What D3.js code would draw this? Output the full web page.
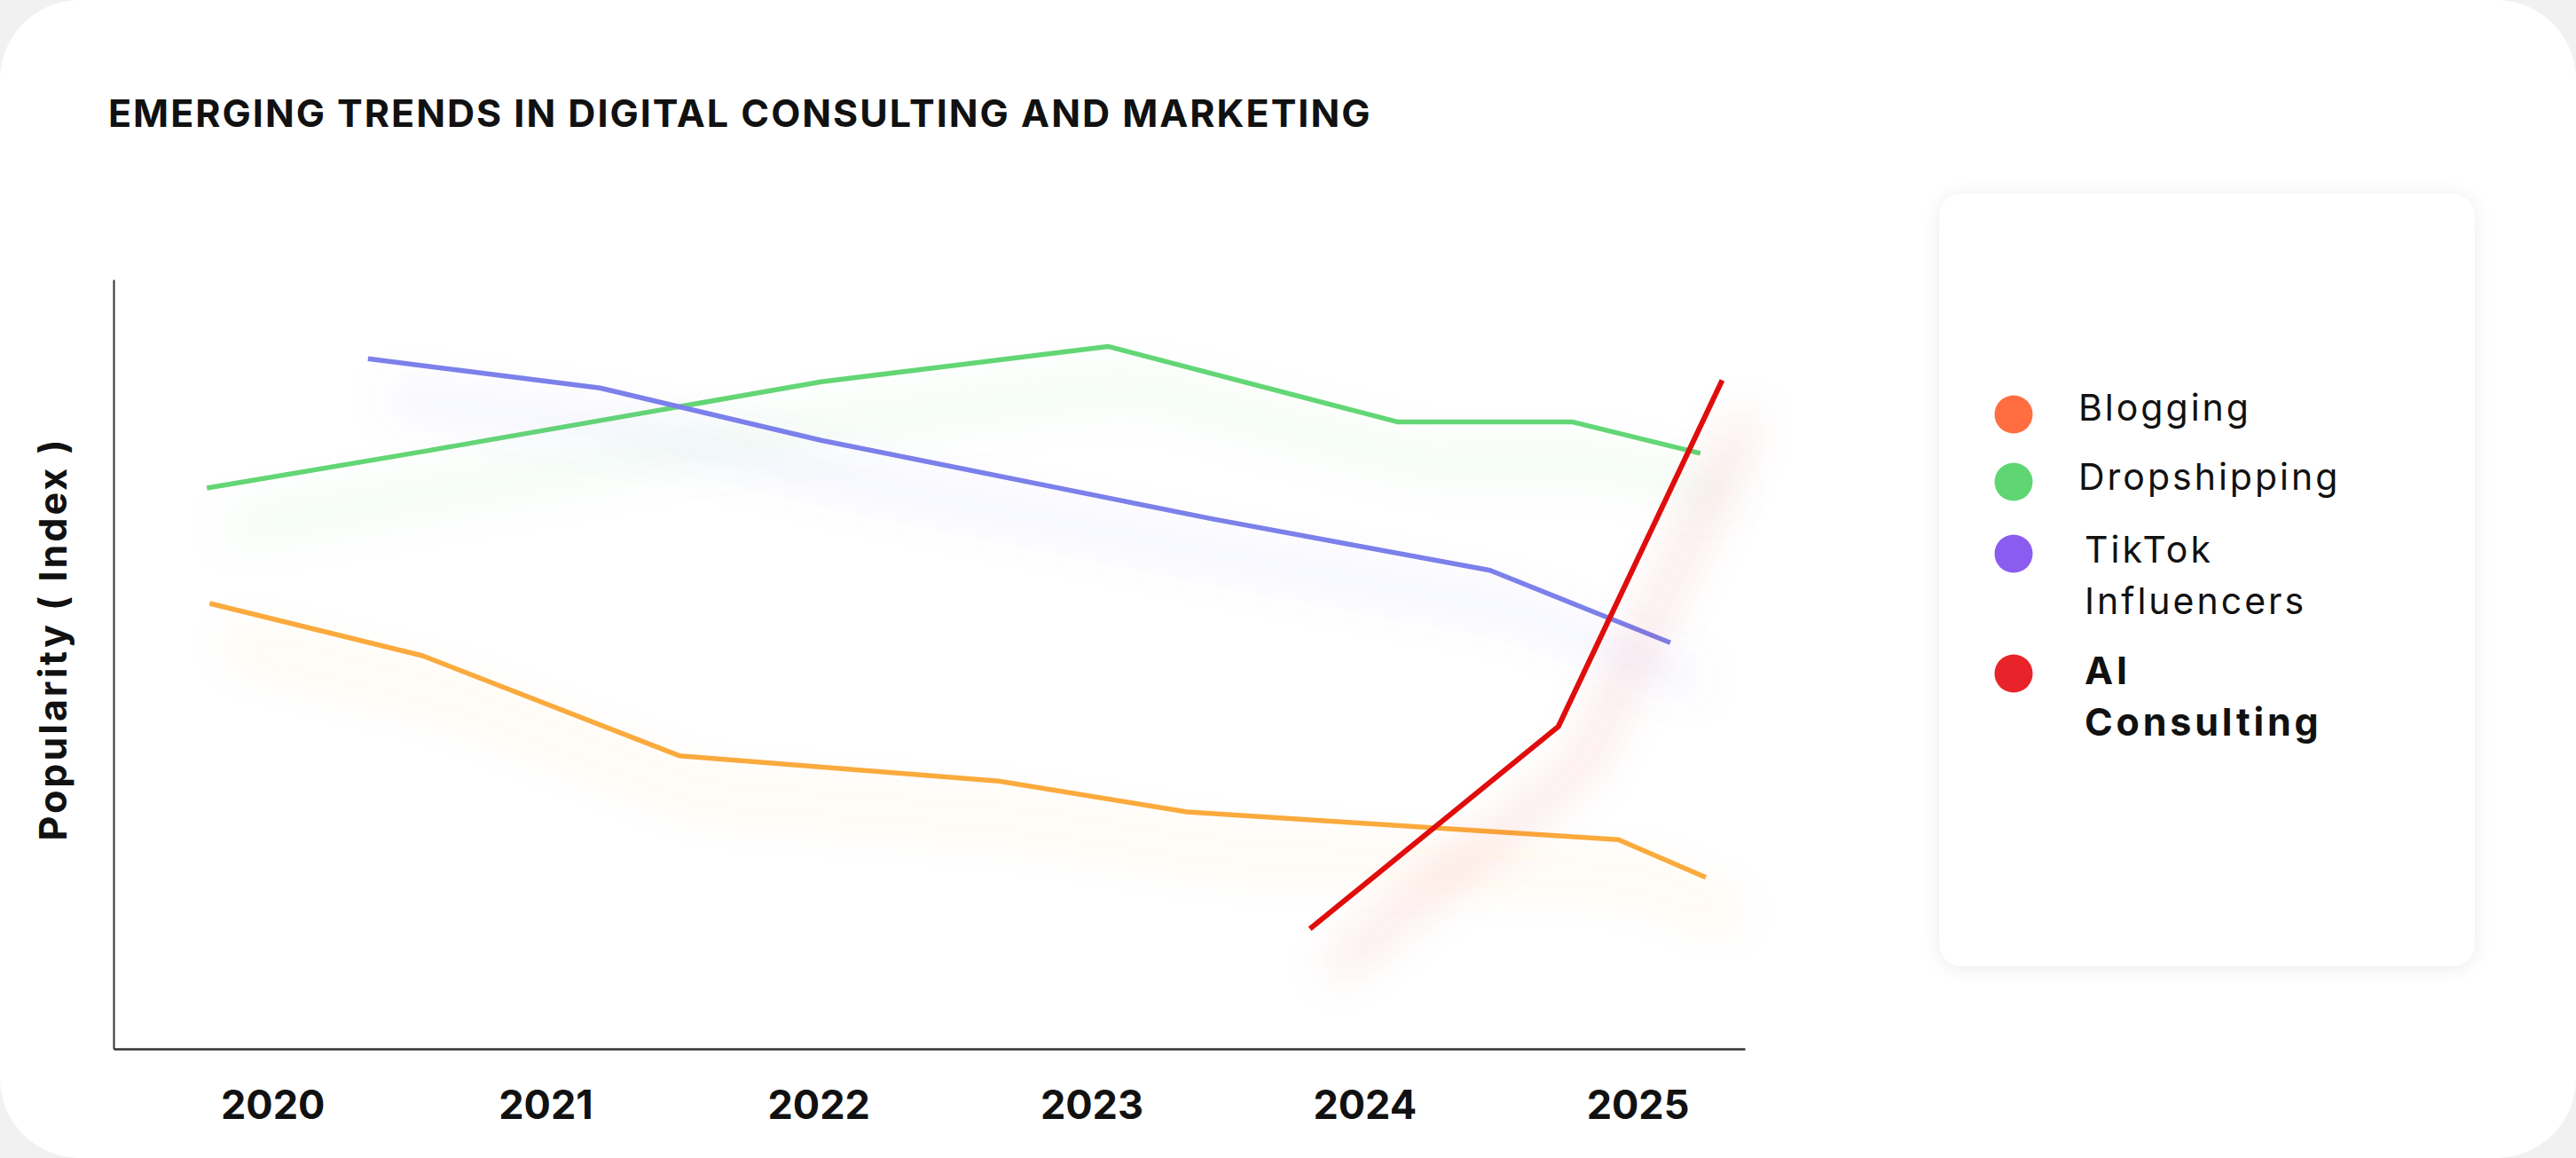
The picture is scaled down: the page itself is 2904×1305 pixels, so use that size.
<!DOCTYPE html>
<html>
<head>
<meta charset="utf-8">
<script src="https://cdn.jsdelivr.net/npm/d3@7"></script>
<style>
  body { margin: 0; background: #f1f1f1; }
  svg { display: block; }
</style>
</head>
<body>
<svg id="chart"></svg>
<script>
// Chart data (x = fractional year, y = popularity index)
const years = [2020, 2021, 2022, 2023, 2024, 2025];
const seriesNames = ["Blogging", "Dropshipping", "TikTok Influencers", "AI Consulting"];
const bloggingData = [[2019.77, 57.9], [2020.55, 51.1], [2021.49, 38.1], [2022.66, 34.8], [2023.35, 30.8], [2024.93, 27.2], [2025.25, 22.3]];
const dropshippingData = [[2019.76, 72.9], [2020.56, 77.7], [2022.01, 86.7], [2023.06, 91.3], [2024.12, 81.5], [2024.76, 81.5], [2025.23, 77.4]];
const tiktokData = [[2020.35, 89.7], [2021.20, 85.9], [2022.01, 79.1], [2023.44, 68.9], [2024.46, 62.2], [2025.12, 52.8]];
const aiData = [[2023.80, 15.6], [2024.71, 41.9], [2025.31, 86.9]];

const lineColors = ["#fbaa3c", "#63d674", "#7c80ea", "#e00b0b"];
const dotColors = ["#ff6d40", "#5fd672", "#8a5cf0", "#e8232a"];

const W = 2904, H = 1305;
const plot = { left: 128, right: 1967, top: 315, bottom: 1182 };

const svg = d3.select("#chart").attr("width", W).attr("height", H);
const defs = svg.append("defs");

// soft glow under each line
lineColors.forEach((c, i) => {
  const f = defs.append("filter").attr("id", "glow" + i)
    .attr("x", "-30%").attr("y", "-60%").attr("width", "160%").attr("height", "220%");
  f.append("feDropShadow").attr("dx", 28).attr("dy", 44)
    .attr("stdDeviation", 24).attr("flood-color", c).attr("flood-opacity", 0.5);
});
const cardShadow = defs.append("filter").attr("id", "cardShadow")
  .attr("x", "-10%").attr("y", "-10%").attr("width", "120%").attr("height", "120%");
cardShadow.append("feDropShadow").attr("dx", 0).attr("dy", 2)
  .attr("stdDeviation", 10).attr("flood-color", "#000").attr("flood-opacity", 0.08);

// white card
svg.append("rect").attr("width", W).attr("height", H).attr("rx", 90).attr("fill", "#fff");

// title
svg.append("text")
  .attr("x", 122).attr("y", 143)
  .attr("font-family", "Inter, sans-serif").attr("font-weight", 700)
  .attr("font-size", 43).attr("letter-spacing", 2).attr("fill", "#111")
  .text("EMERGING TRENDS IN DIGITAL CONSULTING AND MARKETING");

// scales
const x = d3.scaleLinear().domain([2019.418, 2025.393]).range([plot.left, plot.right]);
const y = d3.scaleLinear().domain([0, 100]).range([plot.bottom, plot.top]);

// axes
const xAxis = svg.append("g")
  .attr("transform", `translate(0,${plot.bottom})`)
  .call(d3.axisBottom(x).tickValues(years).tickSize(0).tickSizeOuter(0).tickPadding(47).tickFormat(d3.format("d")));
xAxis.select(".domain").attr("stroke", "#333").attr("stroke-width", 2.5);
xAxis.selectAll("text")
  .attr("font-family", "Inter, sans-serif").attr("font-weight", 700)
  .attr("font-size", 45).attr("fill", "#111");

const yAxis = svg.append("g")
  .attr("transform", `translate(${plot.left},0)`)
  .call(d3.axisLeft(y).tickValues([]).tickSizeOuter(0));
yAxis.select(".domain").attr("stroke", "#333").attr("stroke-width", 2);

svg.append("text")
  .attr("transform", `translate(75,720) rotate(-90)`)
  .attr("text-anchor", "middle")
  .attr("font-family", "Inter, sans-serif").attr("font-weight", 700)
  .attr("font-size", 43).attr("letter-spacing", 3).attr("fill", "#111")
  .text("Popularity ( Index )");

// lines
const line = d3.line().x(d => x(d[0])).y(d => y(d[1]));
const allSeries = [bloggingData, dropshippingData, tiktokData, aiData];
svg.append("g").selectAll("path")
  .data(allSeries)
  .join("path")
  .attr("d", line)
  .attr("fill", "none")
  .attr("stroke", (d, i) => lineColors[i])
  .attr("stroke-width", (d, i) => i === 3 ? 6 : 5.5)
  .attr("stroke-linejoin", "round")
  .attr("filter", (d, i) => `url(#glow${i})`);

// legend card
svg.append("rect")
  .attr("x", 2186).attr("y", 218).attr("width", 604).attr("height", 871)
  .attr("rx", 26).attr("fill", "#fff").attr("filter", "url(#cardShadow)");

const legendRows = [
  { lines: ["Blogging"], dotY: 467, baseY: 474, tx: 2343, bold: false },
  { lines: ["Dropshipping"], dotY: 543, baseY: 552, tx: 2343, bold: false },
  { lines: ["TikTok", "Influencers"], dotY: 624, baseY: 634, tx: 2350, bold: false },
  { lines: ["AI", "Consulting"], dotY: 759, baseY: 771, tx: 2350, bold: true }
];
const legend = svg.append("g");
legendRows.forEach((r, i) => {
  legend.append("circle").attr("cx", 2270).attr("cy", r.dotY).attr("r", 21.5).attr("fill", dotColors[i]);
  const t = legend.append("text")
    .attr("x", r.tx).attr("y", r.baseY)
    .attr("font-family", "Inter, sans-serif")
    .attr("font-weight", r.bold ? 700 : 400)
    .attr("font-size", r.bold ? 43 : 41)
    .attr("letter-spacing", r.bold ? 3.8 : 3)
    .attr("fill", "#111");
  r.lines.forEach((l, j) => {
    t.append("tspan").attr("x", r.tx).attr("dy", j === 0 ? 0 : 58).text(l);
  });
});
</script>
</body>
</html>
